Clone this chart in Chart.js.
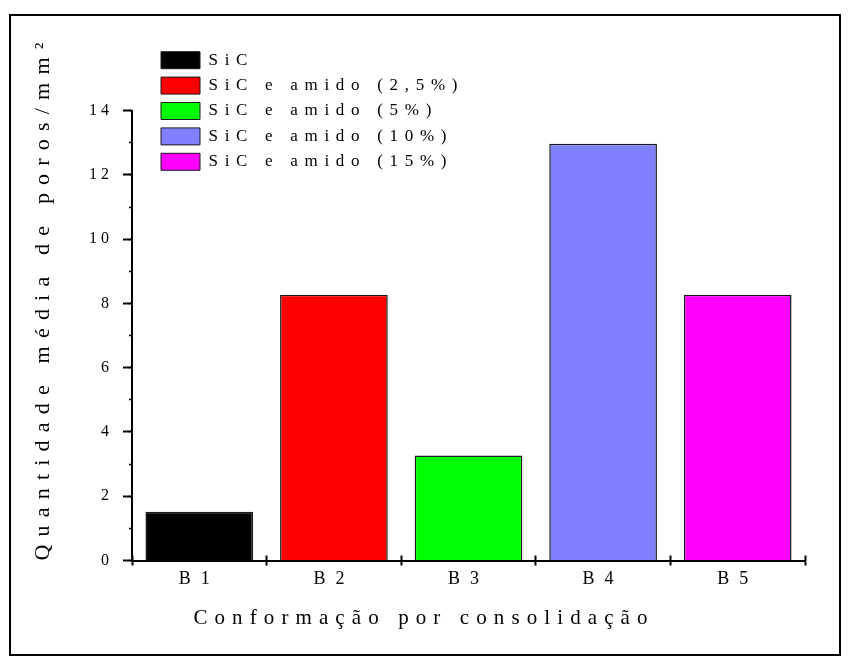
<!DOCTYPE html>
<html>
<head>
<meta charset="utf-8">
<script src="https://cdn.jsdelivr.net/npm/chart.js@4.4.1/dist/chart.umd.min.js"></script>
<style>
  html, body { margin: 0; padding: 0; background: #fff; }
  #wrap { position: relative; width: 852px; height: 668px; }
  #wrap canvas { position: absolute; left: 0; top: 0; }
  #frame { position: absolute; left: 9px; top: 14px; width: 832px; height: 642px;
           box-sizing: border-box; border: 2px solid #000; pointer-events: none; }
</style>
</head>
<body>
<div id="wrap">
  <canvas id="chart" width="852" height="668"></canvas>
  <div id="frame"></div>
</div>
<script>
// Categories (consolidation batches) and the mean pore count per mm² for each
const categories = ['B1', 'B2', 'B3', 'B4', 'B5'];
const seriesNames = [
  'SiC',
  'SiC e amido (2,5%)',
  'SiC e amido (5%)',
  'SiC e amido (10%)',
  'SiC e amido (15%)'
];
const poreCounts = [1.52, 8.27, 3.27, 12.97, 8.27];
const yAxisTitle = 'Quantidade média de poros/mm²';
const xAxisTitle = 'Conformação por consolidação';

const barColors = ['#000000', '#ff0000', '#00ff00', '#8080ff', '#ff00ff'];

Chart.defaults.font.family = "'Liberation Serif', 'Times New Roman', serif";
Chart.defaults.color = '#000';

// Wide, typewriter-like tracking: letter spacing chosen by font size
const canvas = document.getElementById('chart');
const ctx2d = canvas.getContext('2d');
const TRACKING = { 16: 4, 17: 6.7, 18: 10, 21: 7.1, 22: 8.2 };
function applyTracking(c) {
  const m = /(\d+(?:\.\d+)?)px/.exec(c.font);
  const size = m ? Math.round(parseFloat(m[1])) : 0;
  if ('letterSpacing' in c) c.letterSpacing = (TRACKING[size] || 0) + 'px';
}
const nativeFill = ctx2d.fillText.bind(ctx2d);
const nativeMeasure = ctx2d.measureText.bind(ctx2d);
ctx2d.fillText = function (text, x, y) { applyTracking(ctx2d); return nativeFill(text, x, y); };
ctx2d.measureText = function (text) { applyTracking(ctx2d); return nativeMeasure(text); };

// Legend sits in the upper-left corner, partly above the plot area
const legendPlacement = {
  id: 'legendPlacement',
  afterLayout(chart) {
    const lg = chart.legend;
    const w = lg.width, h = lg.height;
    lg.left = 152.6;
    lg.top = 43.3;
    lg.right = lg.left + w;
    lg.bottom = lg.top + h;
  }
};

new Chart(ctx2d, {
  type: 'bar',
  data: {
    labels: categories,
    datasets: [{
      data: poreCounts,
      xAxisID: 'x',
      yAxisID: 'y',
      backgroundColor: barColors,
      borderColor: '#1a1a1a',
      borderWidth: 1.5,
      barPercentage: 0.8,
      categoryPercentage: 1
    }]
  },
  options: {
    responsive: false,
    animation: false,
    events: [],
    layout: { padding: { left: 43, right: 47, top: 110.7, bottom: 0 } },
    plugins: {
      tooltip: { enabled: false },
      legend: {
        position: 'chartArea',
        align: 'start',
        labels: {
          boxWidth: 39,
          boxHeight: 17,
          padding: 8.4,
          color: '#000',
          font: { size: 17 },
          generateLabels: () => seriesNames.map((name, i) => ({
            text: name,
            fillStyle: barColors[i],
            strokeStyle: '#1a1a1a',
            lineWidth: 1,
            hidden: false,
            index: i
          }))
        }
      },
      title: {
        display: true,
        position: 'bottom',
        text: xAxisTitle,
        color: '#000',
        font: { size: 21, weight: 'normal' },
        padding: { top: 0, bottom: 37 }
      }
    },
    scales: {
      x: {
        type: 'category',
        position: 'bottom',
        weight: 1,
        offset: true,
        grid: { offset: true, drawOnChartArea: false, tickLength: 5, tickWidth: 2, tickColor: '#000' },
        border: { display: true, color: '#000', width: 2 },
        ticks: { font: { size: 18 }, color: '#000', padding: 3, maxRotation: 0 },
        afterFit: s => { s.height = 45.3; }
      },
      // upper half of the category separators crossing the x axis
      x2: {
        type: 'category',
        position: 'bottom',
        weight: 0,
        offset: true,
        grid: { offset: true, drawOnChartArea: false, tickLength: -5, tickWidth: 2, tickColor: '#000' },
        border: { display: false },
        ticks: { display: false },
        afterFit: s => { s.height = 0; }
      },
      y: {
        type: 'linear',
        position: 'left',
        weight: 1,
        min: 0,
        max: 14,
        ticks: { stepSize: 2, font: { size: 16 }, color: '#000', padding: 10 },
        grid: { drawOnChartArea: false, tickLength: 9, tickWidth: 2, tickColor: '#000' },
        border: { color: '#000', width: 2 },
        title: {
          display: true,
          text: yAxisTitle,
          align: 'start',
          color: '#000',
          font: { size: 22 },
          padding: { top: -13, bottom: 0 }
        },
        afterFit: s => { s.width = 89; }
      },
      // short minor ticks at every unit
      yMinor: {
        type: 'linear',
        position: 'left',
        weight: 0,
        min: 0,
        max: 14,
        ticks: { display: false, stepSize: 1 },
        grid: { drawOnChartArea: false, tickLength: 3, tickWidth: 1.5, tickColor: '#000' },
        border: { display: false },
        afterFit: s => { s.width = 0; }
      }
    }
  },
  plugins: [legendPlacement]
});
</script>
</body>
</html>
